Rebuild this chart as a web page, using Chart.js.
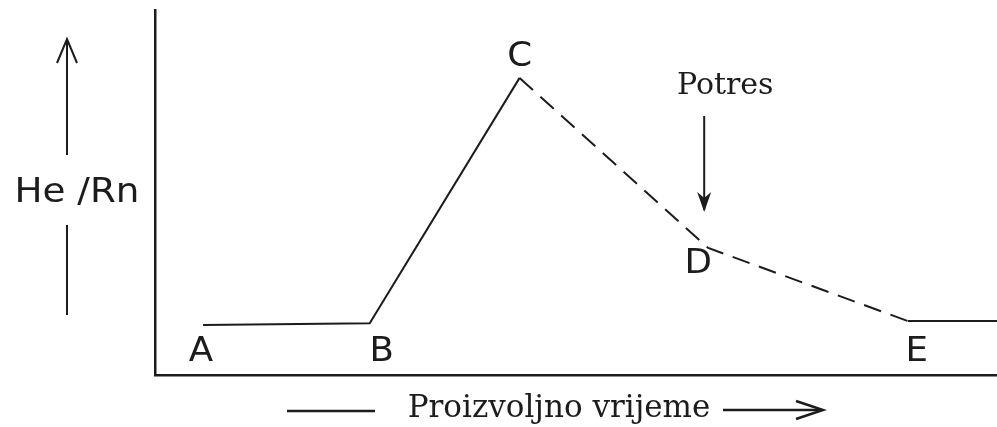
<!DOCTYPE html>
<html><head><meta charset="utf-8">
<style>html,body{margin:0;padding:0;background:#fff}#wrap{width:997px;height:427px}</style>
<script src="https://cdn.jsdelivr.net/npm/chart.js@4.4.1/dist/chart.umd.min.js"></script>
</head><body><div id="wrap"><canvas id="c" width="997" height="427"></canvas></div>
<script>
// ---- data ----
const timeValues   = [5.7, 25.5, 43.3, 65.7, 89.4, 100];
const ratioValues  = [13.7, 14.2, 81.4, 34.8, 14.8, 14.8];
const pointLabels  = ['A', 'B', 'C', 'D', 'E', ''];
const dashedFrom   = [2, 3];          // segments C→D and D→E are dashed
const eventIndex   = 3;               // earthquake marked at D
const eventLabel   = 'Potres';
const yAxisTitle   = 'He /Rn';
const xAxisTitle   = 'Proizvoljno vrijeme';

// ---- styles ----
const INK = '#1c1c1c';
const labelOffsets = [[-2, 27], [12, 29], [0, -20], [-10, 16], [9, 31], [0, 0]];
const letterFont = '33px "DejaVu Sans"';
const serifFont = '30px "DejaVu Serif"';
const titleFont = '31px "DejaVu Serif"';

function wideText(ctx, t, x, y, sx) {
  ctx.save(); ctx.translate(x, y); ctx.scale(sx, 1); ctx.fillText(t, 0, 0); ctx.restore();
}

const annot = {
  id: 'annot',
  afterDraw(chart) {
    const ctx = chart.ctx, xs = chart.scales.x, ys = chart.scales.y;
    ctx.save();
    ctx.fillStyle = INK; ctx.strokeStyle = INK;
    ctx.textAlign = 'center'; ctx.textBaseline = 'middle';
    // point letters
    ctx.font = letterFont;
    pointLabels.forEach((t, i) => {
      if (!t) return;
      const px = xs.getPixelForValue(timeValues[i]), py = ys.getPixelForValue(ratioValues[i]);
      wideText(ctx, t, px + labelOffsets[i][0], py + labelOffsets[i][1], 1.08);
    });
    // earthquake arrow
    const ex = xs.getPixelForValue(timeValues[eventIndex]) - 4;
    const ey = ys.getPixelForValue(ratioValues[eventIndex]);
    ctx.font = serifFont;
    ctx.fillText(eventLabel, ex + 21, 86);
    ctx.lineWidth = 2;
    ctx.beginPath(); ctx.moveTo(ex, 116); ctx.lineTo(ex, ey - 38); ctx.stroke();
    ctx.beginPath(); ctx.moveTo(ex, ey - 36); ctx.lineTo(ex - 7, ey - 56); ctx.lineTo(ex, ey - 50); ctx.lineTo(ex + 7, ey - 56); ctx.closePath(); ctx.fill();
    // y title with arrow
    ctx.font = letterFont;
    wideText(ctx, yAxisTitle, 77, 193, 1.13);
    ctx.lineWidth = 2;
    ctx.beginPath(); ctx.moveTo(67, 155); ctx.lineTo(67, 40); ctx.stroke();
    ctx.beginPath(); ctx.moveTo(57, 63); ctx.lineTo(67, 39); ctx.lineTo(77, 63); ctx.stroke();
    ctx.beginPath(); ctx.moveTo(67, 225); ctx.lineTo(67, 315); ctx.stroke();
    // x title with arrows
    ctx.font = titleFont;
    ctx.fillText(xAxisTitle, 559, 409);
    ctx.lineWidth = 2.5;
    ctx.beginPath(); ctx.moveTo(287, 411); ctx.lineTo(375, 411); ctx.stroke();
    ctx.beginPath(); ctx.moveTo(723, 410); ctx.lineTo(820, 410); ctx.stroke();
    ctx.beginPath(); ctx.moveTo(796, 401); ctx.lineTo(823, 410); ctx.lineTo(796, 419); ctx.stroke();
    ctx.restore();
  }
};

new Chart(document.getElementById('c'), {
  type: 'line',
  data: {
    datasets: [{
      data: timeValues.map((x, i) => ({ x, y: ratioValues[i] })),
      borderColor: INK, borderWidth: 2, pointRadius: 0, tension: 0, fill: false,
      segment: { borderDash: c => dashedFrom.includes(c.p0DataIndex) ? [18, 10] : undefined }
    }]
  },
  options: {
    responsive: false, animation: false, devicePixelRatio: 1,
    layout: { padding: { left: 155, top: 10, right: 0, bottom: 52 } },
    plugins: { legend: { display: false }, tooltip: { enabled: false } },
    scales: {
      x: { type: 'linear', min: 0, max: 100,
           grid: { display: false, drawTicks: false }, ticks: { display: false },
           border: { display: true, color: INK, width: 2.5 },
           afterFit: s => { s.height = 0; } },
      y: { min: 0, max: 100,
           grid: { display: false, drawTicks: false }, ticks: { display: false },
           border: { display: true, color: INK, width: 2.5 },
           afterFit: s => { s.width = 0; } }
    }
  },
  plugins: [annot]
});
</script></body></html>
